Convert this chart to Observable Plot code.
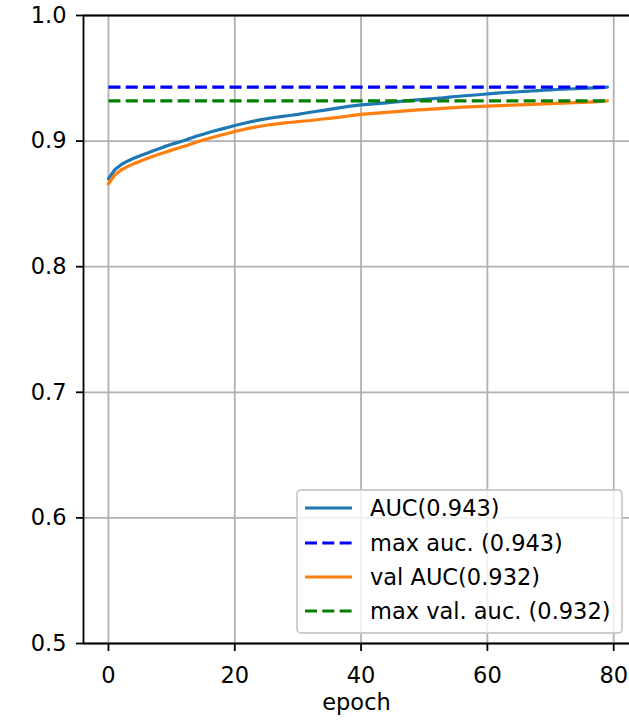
<!DOCTYPE html>
<html><head><meta charset="utf-8">
<script src="https://cdn.jsdelivr.net/npm/d3@7"></script>
<script src="https://cdn.jsdelivr.net/npm/@observablehq/plot@0.6"></script>
<style>
html,body{margin:0;padding:0;background:#fff;overflow:hidden;}
#chart{position:relative;width:629px;height:721px;}
</style></head><body><div id="chart"></div>
<script>
// training AUC per epoch (epoch 0..79)
const auc = [
  0.8700,0.8772,0.8812,0.8840,0.8864,0.8883,0.8902,0.8922,0.8940,0.8958,
  0.8975,0.8990,0.9005,0.9022,0.9040,0.9055,0.9070,0.9084,0.9097,0.9110,
  0.9124,0.9136,0.9148,0.9159,0.9169,0.9178,0.9186,0.9193,0.9200,0.9206,
  0.9213,0.9222,0.9230,0.9238,0.9245,0.9252,0.9260,0.9268,0.9276,0.9283,
  0.9289,0.9293,0.9297,0.9301,0.9305,0.9310,0.9315,0.9320,0.9324,0.9328,
  0.9332,0.9336,0.9340,0.9344,0.9350,0.9355,0.9359,0.9363,0.9367,0.9371,
  0.9375,0.9380,0.9384,0.9387,0.9390,0.9393,0.9396,0.9399,0.9402,0.9405,
  0.9408,0.9411,0.9413,0.9415,0.9417,0.9419,0.9421,0.9423,0.9425,0.9430
];
// validation AUC per epoch
const valAuc = [
  0.8660,0.8730,0.8770,0.8797,0.8819,0.8840,0.8859,0.8878,0.8895,0.8912,
  0.8928,0.8943,0.8959,0.8975,0.8992,0.9008,0.9023,0.9037,0.9050,0.9063,
  0.9076,0.9088,0.9099,0.9109,0.9118,0.9126,0.9133,0.9139,0.9145,0.9150,
  0.9155,0.9160,0.9164,0.9170,0.9176,0.9181,0.9187,0.9193,0.9200,0.9207,
  0.9213,0.9217,0.9221,0.9225,0.9229,0.9233,0.9237,0.9241,0.9245,0.9248,
  0.9251,0.9254,0.9257,0.9260,0.9264,0.9267,0.9270,0.9273,0.9275,0.9277,
  0.9279,0.9281,0.9283,0.9285,0.9287,0.9289,0.9291,0.9293,0.9295,0.9297,
  0.9299,0.9301,0.9303,0.9305,0.9307,0.9309,0.9311,0.9313,0.9316,0.9320
];
const maxAuc = 0.943;
const maxValAuc = 0.932;
const seriesLabels = ["AUC(0.943)", "max auc. (0.943)", "val AUC(0.932)", "max val. auc. (0.932)"];
const seriesColors = ["#1f77b4", "#0000ff", "#ff7f0e", "#008000"];
const seriesDashed = [false, true, false, true];
const xTicks = [0, 20, 40, 60, 80];
const yTicks = [0.5, 0.6, 0.7, 0.8, 0.9, 1.0];
const xLabel = "epoch";

const aucData = auc.map((v, i) => ({epoch: i, value: v}));
const valData = valAuc.map((v, i) => ({epoch: i, value: v}));
const maxAucData = auc.map((v, i) => ({epoch: i, value: maxAuc}));
const maxValData = valAuc.map((v, i) => ({epoch: i, value: maxValAuc}));

const LW = 3.2;
const DASH = "12,5.3";
const FONT = "'DejaVu Sans', sans-serif";
const FS = 22.5;
const xDomain = [-3.95, 82.5];
const yDomain = [0.5, 1.0];

const plot = Plot.plot({
  width: 629, height: 721,
  marginLeft: 83, marginRight: 0, marginTop: 15, marginBottom: 78,
  x: {domain: xDomain},
  y: {domain: yDomain},
  style: {fontFamily: FONT, fontSize: FS + "px", color: "#000", background: "#fff", overflow: "visible"},
  marks: [
    Plot.gridX(xTicks, {stroke: "#b0b0b0", strokeOpacity: 1, strokeWidth: 1.8}),
    Plot.gridY(yTicks, {stroke: "#b0b0b0", strokeOpacity: 1, strokeWidth: 1.8}),
    Plot.line(aucData, {x: "epoch", y: "value", stroke: seriesColors[0], strokeWidth: LW}),
    Plot.line(maxAucData, {x: "epoch", y: "value", stroke: seriesColors[1], strokeWidth: LW, strokeDasharray: DASH, strokeLinecap: "butt"}),
    Plot.line(valData, {x: "epoch", y: "value", stroke: seriesColors[2], strokeWidth: LW}),
    Plot.line(maxValData, {x: "epoch", y: "value", stroke: seriesColors[3], strokeWidth: LW, strokeDasharray: DASH, strokeLinecap: "butt"}),
    Plot.ruleX([xDomain[0]], {stroke: "#000", strokeWidth: 1.8}),
    Plot.ruleY(yDomain, {stroke: "#000", strokeWidth: 1.8}),
    Plot.axisX(xTicks, {tickSize: 8, tickPadding: 16, strokeWidth: 1.8, label: null, fontSize: FS, fill: "#000", stroke: "#000"}),
    Plot.axisY(yTicks, {tickSize: 7, tickPadding: 10, strokeWidth: 1.8, label: null, fontSize: FS, tickFormat: d3.format(".1f"), fill: "#000", stroke: "#000"}),
    Plot.text([xLabel], {frameAnchor: "bottom", dy: 66, fontSize: FS, fill: "#000"})
  ]
});
document.getElementById("chart").appendChild(plot);

// legend (matplotlib style, lower right)
const svg = d3.select(plot);
const lg = svg.append("g").attr("font-family", FONT).attr("font-size", FS).attr("text-anchor", "start");
lg.append("rect").attr("x", 297).attr("y", 490).attr("width", 325).attr("height", 143)
  .attr("rx", 4).attr("fill", "#fff").attr("fill-opacity", 0.8)
  .attr("stroke", "#cccccc").attr("stroke-width", 1.8);
const rowY = [508, 543, 577, 611];
seriesLabels.forEach((lab, i) => {
  lg.append("line").attr("x1", 305).attr("x2", 352).attr("y1", rowY[i]).attr("y2", rowY[i])
    .attr("stroke", seriesColors[i]).attr("stroke-width", LW)
    .attr("stroke-dasharray", seriesDashed[i] ? DASH : null);
  lg.append("text").attr("x", 370).attr("y", rowY[i]).attr("dy", "0.35em")
    .attr("text-anchor", "start").attr("fill", "#000").text(lab);
});
</script>
</body></html>
